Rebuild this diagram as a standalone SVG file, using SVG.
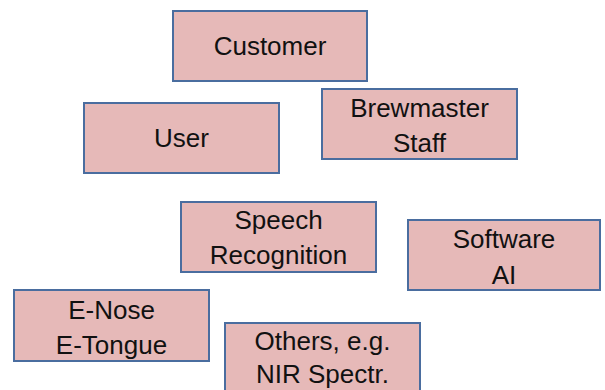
<svg xmlns="http://www.w3.org/2000/svg" width="605" height="390" viewBox="0 0 605 390">
  <style>
    .box { fill: #e6b9b8; stroke: #4a6d9f; stroke-width: 2; }
    .lbl { font-family: "Liberation Sans", Arial, sans-serif; font-size: 26px; fill: #111; text-anchor: middle; }
  </style>
  <rect width="605" height="390" fill="#ffffff"/>
  <g id="connectors"></g>
  <g id="customer">
    <rect class="box" x="173" y="11" width="194" height="70"/>
    <text class="lbl" x="270" y="55">Customer</text>
  </g>
  <g id="user">
    <rect class="box" x="84" y="103" width="195" height="70"/>
    <text class="lbl" x="181.5" y="147">User</text>
  </g>
  <g id="brewmaster">
    <rect class="box" x="322" y="89" width="195" height="70"/>
    <text class="lbl" x="419.5" y="117">Brewmaster</text>
    <text class="lbl" x="419.5" y="152">Staff</text>
  </g>
  <g id="speech">
    <rect class="box" x="181" y="202" width="195" height="70"/>
    <text class="lbl" x="278.5" y="229">Speech</text>
    <text class="lbl" x="278.5" y="264">Recognition</text>
  </g>
  <g id="software">
    <rect class="box" x="408" y="220" width="192" height="70"/>
    <text class="lbl" x="504" y="248">Software</text>
    <text class="lbl" x="504" y="284">AI</text>
  </g>
  <g id="enose">
    <rect class="box" x="14" y="290" width="195" height="71"/>
    <text class="lbl" x="111.5" y="319">E-Nose</text>
    <text class="lbl" x="111.5" y="354">E-Tongue</text>
  </g>
  <g id="others">
    <rect class="box" x="225" y="323" width="195" height="72"/>
    <text class="lbl" x="322.5" y="350">Others, e.g.</text>
    <text class="lbl" x="322.5" y="383">NIR Spectr.</text>
  </g>
</svg>
